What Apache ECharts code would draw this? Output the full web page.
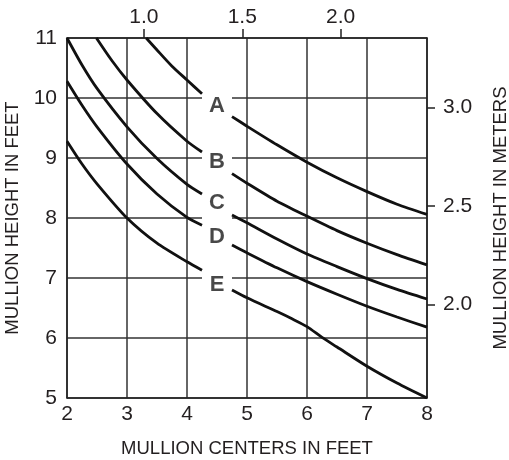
<!DOCTYPE html>
<html>
<head>
<meta charset="utf-8">
<script src="https://cdn.jsdelivr.net/npm/echarts@6/dist/echarts.min.js"></script>
<style>html,body{margin:0;padding:0;background:#fff}#c{width:509px;height:460px}</style>
</head>
<body>
<div id="c"></div>
<script>
// ---- data (feet) ----
const curveA_x = [3.32, 3.5, 3.75, 4.0, 4.25, 4.5, 4.75, 5.0, 5.5, 6.0, 6.5, 7.0, 7.5, 8.0];
const curveA_y = [11.0, 10.8, 10.53, 10.3, 10.07, null, 9.69, 9.53, 9.22, 8.93, 8.67, 8.44, 8.23, 8.06];
const curveB_x = [2.49, 2.75, 3.0, 3.5, 4.0, 4.25, 4.5, 4.75, 5.0, 5.5, 6.0, 6.5, 7.0, 7.5, 8.0];
const curveB_y = [11.0, 10.62, 10.3, 9.74, 9.28, 9.1, null, 8.74, 8.58, 8.28, 8.03, 7.79, 7.58, 7.39, 7.22];
const curveC_x = [2.0, 2.25, 2.5, 3.0, 3.5, 4.0, 4.25, 4.5, 4.75, 5.0, 5.5, 6.0, 6.5, 7.0, 7.5, 8.0];
const curveC_y = [11.0, 10.55, 10.16, 9.52, 8.99, 8.56, 8.4, null, 8.05, 7.92, 7.65, 7.4, 7.19, 6.99, 6.81, 6.65];
const curveD_x = [2.0, 2.25, 2.5, 3.0, 3.5, 4.0, 4.25, 4.5, 4.75, 5.0, 5.5, 6.0, 6.5, 7.0, 7.5, 8.0];
const curveD_y = [10.28, 9.88, 9.52, 8.9, 8.4, 8.01, 7.88, null, 7.55, 7.42, 7.17, 6.94, 6.73, 6.53, 6.35, 6.18];
const curveE_x = [2.0, 2.25, 2.5, 3.0, 3.5, 4.0, 4.25, 4.5, 4.75, 5.0, 5.5, 5.75, 6.0, 6.25, 6.5, 7.0, 7.5, 8.0];
const curveE_y = [9.28, 8.9, 8.57, 8.0, 7.58, 7.27, 7.13, null, 6.8, 6.67, 6.44, 6.32, 6.19, 6.01, 5.85, 5.53, 5.25, 5.0];

const curveLabels = ['A', 'B', 'C', 'D', 'E'];
const labelX = [4.5, 4.5, 4.5, 4.5, 4.5];
const labelY = [9.87, 8.93, 8.25, 7.69, 6.89];

// blank band behind the letters (feet)
const gapX = [4.25, 4.75];
const gapY = [6.7, 10.15];

// axes
const feetX = [2, 8];
const feetY = [5, 11];
const FT_PER_M = 3.28084;
const meterXTicks = [1.0, 1.5, 2.0];
const meterYTicks = [2.0, 2.5, 3.0];

const xs = [curveA_x, curveB_x, curveC_x, curveD_x, curveE_x];
const ys = [curveA_y, curveB_y, curveC_y, curveD_y, curveE_y];

const FONT = '"Liberation Sans", Arial, Helvetica, sans-serif';
const TXT = '#231f20';
const GRIDC = '#333';
const TICKFS = 21;
const TITLEFS = 18.5;

const lineSeries = xs.map((xArr, i) => ({
  type: 'line',
  name: curveLabels[i],
  xAxisIndex: 0, yAxisIndex: 0,
  showSymbol: false,
  smooth: 0.25,
  connectNulls: false,
  silent: true,
  z: 3,
  lineStyle: { color: '#111', width: 2.8 },
  data: xArr.map((x, j) => [x, ys[i][j] === null ? '-' : ys[i][j]])
}));

const chart = echarts.init(document.getElementById('c'), null, { renderer: 'canvas' });
chart.setOption({
  animation: false,
  backgroundColor: '#fff',
  grid: { left: 67, right: 82, top: 38, bottom: 62, containLabel: false, outerBoundsMode: 'none' },
  xAxis: [
    {
      type: 'value', position: 'bottom', min: feetX[0], max: feetX[1], interval: 1,
      axisLine: { show: true, lineStyle: { color: '#222', width: 1.5 } },
      axisTick: { show: false },
      axisLabel: { fontSize: TICKFS, color: TXT, fontFamily: FONT, margin: 6 },
      splitLine: { show: true, lineStyle: { color: GRIDC, width: 1.5 } },
      name: 'MULLION CENTERS IN FEET', nameLocation: 'middle', nameGap: 41,
      nameTextStyle: { fontSize: TITLEFS, color: TXT, fontFamily: FONT }
    },
    {
      type: 'value', position: 'top', min: feetX[0] / FT_PER_M, max: feetX[1] / FT_PER_M,
      axisLine: { show: true, lineStyle: { color: '#222', width: 1.5 } },
      axisTick: { show: true, customValues: meterXTicks, length: 9, lineStyle: { color: '#222', width: 1.5 } },
      axisLabel: { customValues: meterXTicks, fontSize: TICKFS, color: TXT, fontFamily: FONT, margin: 10,
        formatter: v => Number(v).toFixed(1) },
      splitLine: { show: false }
    }
  ],
  yAxis: [
    {
      type: 'value', position: 'left', min: feetY[0], max: feetY[1], interval: 1,
      axisLine: { show: true, lineStyle: { color: '#222', width: 1.5 } },
      axisTick: { show: false },
      axisLabel: { fontSize: TICKFS, color: TXT, fontFamily: FONT, margin: 10 },
      splitLine: { show: true, lineStyle: { color: GRIDC, width: 1.5 } },
      name: 'MULLION HEIGHT IN FEET', nameLocation: 'middle', nameGap: 43, nameRotate: 90,
      nameTextStyle: { fontSize: TITLEFS, color: TXT, fontFamily: FONT }
    },
    {
      type: 'value', position: 'right', min: feetY[0] / FT_PER_M, max: feetY[1] / FT_PER_M,
      axisLine: { show: true, lineStyle: { color: '#222', width: 1.5 } },
      axisTick: { show: true, customValues: meterYTicks, length: 8, lineStyle: { color: '#222', width: 1.5 } },
      axisLabel: { customValues: meterYTicks, fontSize: TICKFS, color: TXT, fontFamily: FONT, margin: 16,
        formatter: v => Number(v).toFixed(1) },
      splitLine: { show: false },
      name: 'MULLION HEIGHT IN METERS', nameLocation: 'middle', nameGap: 64, nameRotate: 90,
      nameTextStyle: { fontSize: TITLEFS, color: TXT, fontFamily: FONT }
    }
  ],
  series: [
    {
      type: 'line', xAxisIndex: 0, yAxisIndex: 0, data: [], silent: true, z: 2,
      markArea: {
        silent: true,
        itemStyle: { color: '#fff', borderWidth: 0 },
        data: [[{ coord: [gapX[0], gapY[0]] }, { coord: [gapX[1], gapY[1]] }]]
      }
    },
    ...lineSeries,
    {
      type: 'scatter', xAxisIndex: 0, yAxisIndex: 0, symbolSize: 0, silent: true, z: 4,
      data: curveLabels.map((n, i) => ({ name: n, value: [labelX[i], labelY[i]] })),
      label: {
        show: true, position: 'inside', formatter: p => p.name,
        fontSize: 22, fontWeight: 'bold', color: '#1a1a1a', fontFamily: FONT
      }
    }
  ]
});
</script>
</body>
</html>
